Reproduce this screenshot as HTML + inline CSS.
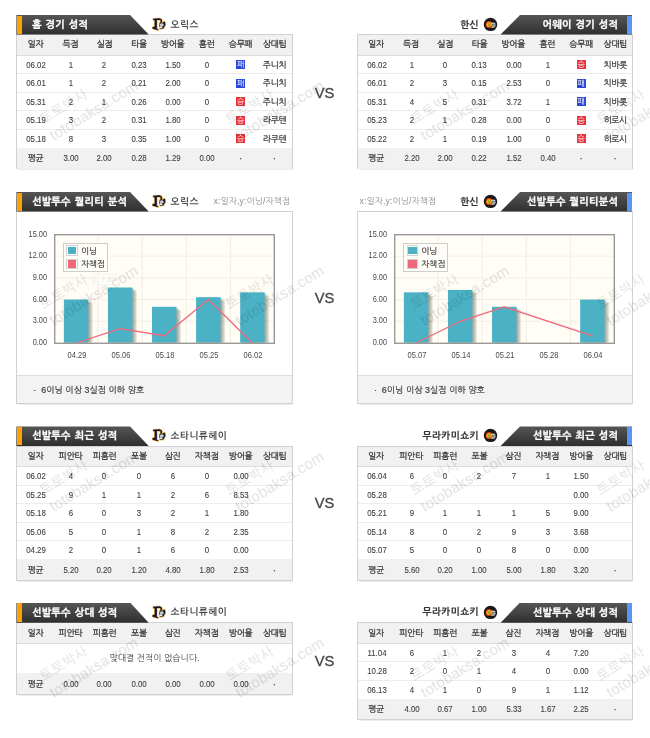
<!DOCTYPE html>
<html lang="ko"><head><meta charset="utf-8"><title>경기 분석</title>
<style>
html,body{margin:0;padding:0;background:#fff;}
body{width:650px;height:738px;position:relative;overflow:hidden;font-family:"Liberation Sans","NanumGothic","Noto Sans CJK KR",sans-serif;color:#555;filter:blur(0.3px);}
.a{position:absolute;white-space:nowrap;}
.c{position:absolute;white-space:nowrap;text-align:center;font-size:8.6px;color:#555;}
.th{color:#3a3a3a;font-size:8.7px;letter-spacing:-0.25px;-webkit-text-stroke:0.3px #3a3a3a;}
.n{transform:scaleX(0.9);color:#3c3c3c;font-size:8.7px;-webkit-text-stroke:0.1px #3c3c3c;}
.k{font-size:8.6px;color:#3a3a3a;letter-spacing:-0.2px;-webkit-text-stroke:0.25px #3a3a3a;}
.hd{position:absolute;height:19.6px;background:linear-gradient(#565656,#2e2e2e);}
.ht{position:absolute;white-space:nowrap;color:#fff;font-weight:bold;font-size:10.1px;line-height:19.6px;letter-spacing:0.25px;word-spacing:0.8px;-webkit-text-stroke:0.3px #fff;}
.tn{position:absolute;white-space:nowrap;font-weight:bold;font-size:9.6px;line-height:19.6px;color:#444;letter-spacing:0.4px;}
.box{position:absolute;border:1px solid #d2d2d2;box-sizing:border-box;background:#fff;box-shadow:0 0.6px 0.8px rgba(0,0,0,0.07);}
.hl{position:absolute;height:1px;background:#ececec;}
.g{position:absolute;background:#f1f1f1;}
.bd{position:absolute;width:8.8px;height:9px;color:#fff;font-size:7.8px;line-height:9.8px;text-align:center;overflow:hidden;}
.wm{position:absolute;white-space:nowrap;color:#000;opacity:0.1;font-size:15px;letter-spacing:0.25px;line-height:17.6px;transform:rotate(-31.5deg);transform-origin:0 26.4px;text-align:left;pointer-events:none;-webkit-text-stroke:0.25px #000;}
.wm b{font-weight:normal;font-size:13.6px;letter-spacing:0.6px;margin-left:0px;}
.lg{font-size:8.5px;line-height:10px;color:#444;letter-spacing:0.05px;-webkit-text-stroke:0.2px #444;}
.dot{color:#444;font-weight:bold;font-size:8px;}
.vs{position:absolute;font-size:14.7px;line-height:16px;color:#444;-webkit-text-stroke:0.3px #444;}
.yl{position:absolute;white-space:nowrap;font-size:8.2px;color:#4a4a4a;text-align:right;width:30px;line-height:10px;transform:scaleX(0.9);transform-origin:100% 50%;}
.xl{position:absolute;white-space:nowrap;font-size:8.2px;color:#4a4a4a;text-align:center;width:40px;line-height:10px;transform:scaleX(0.92);}
</style></head>
<body>
<div class="box" style="left:16.4px;top:34.1px;width:276.4px;height:135.4px;"></div>
<div class="g" style="left:17.4px;top:35.1px;width:274.4px;height:19.9px;"></div>
<div class="hl" style="left:17.4px;top:54.5px;width:274.4px;background:#dcdcdc;"></div>
<div class="g" style="left:17.4px;top:148.0px;width:274.4px;height:20.5px;"></div>
<div class="c th" style="left:10.40px;top:34.3px;width:50px;line-height:20.9px;">일자</div>
<div class="c th" style="left:45.40px;top:34.3px;width:50px;line-height:20.9px;">득점</div>
<div class="c th" style="left:79.60px;top:34.3px;width:50px;line-height:20.9px;">실점</div>
<div class="c th" style="left:113.90px;top:34.3px;width:50px;line-height:20.9px;">타율</div>
<div class="c th" style="left:147.60px;top:34.3px;width:50px;line-height:20.9px;">방어율</div>
<div class="c th" style="left:181.70px;top:34.3px;width:50px;line-height:20.9px;">홈런</div>
<div class="c th" style="left:215.60px;top:34.3px;width:50px;line-height:20.9px;">승무패</div>
<div class="c th" style="left:249.50px;top:34.3px;width:50px;line-height:20.9px;">상대팀</div>
<div class="c n" style="left:11.30px;top:55.60px;width:50px;line-height:19.2px;">06.02</div>
<div class="c n" style="left:46.00px;top:55.60px;width:50px;line-height:19.2px;">1</div>
<div class="c n" style="left:79.40px;top:55.60px;width:50px;line-height:19.2px;">2</div>
<div class="c n" style="left:113.70px;top:55.60px;width:50px;line-height:19.2px;">0.23</div>
<div class="c n" style="left:147.90px;top:55.60px;width:50px;line-height:19.2px;">1.50</div>
<div class="c n" style="left:181.90px;top:55.60px;width:50px;line-height:19.2px;">0</div>
<div class="bd" style="left:236.20px;top:60.00px;background:#2b46d8;">패</div>
<div class="c k" style="left:249.70px;top:55.60px;width:50px;line-height:19.2px;">주니치</div>
<div class="hl" style="left:17.4px;top:73.10px;width:274.4px;"></div>
<div class="c n" style="left:11.30px;top:74.20px;width:50px;line-height:19.2px;">06.01</div>
<div class="c n" style="left:46.00px;top:74.20px;width:50px;line-height:19.2px;">1</div>
<div class="c n" style="left:79.40px;top:74.20px;width:50px;line-height:19.2px;">2</div>
<div class="c n" style="left:113.70px;top:74.20px;width:50px;line-height:19.2px;">0.21</div>
<div class="c n" style="left:147.90px;top:74.20px;width:50px;line-height:19.2px;">2.00</div>
<div class="c n" style="left:181.90px;top:74.20px;width:50px;line-height:19.2px;">0</div>
<div class="bd" style="left:236.20px;top:78.60px;background:#2b46d8;">패</div>
<div class="c k" style="left:249.70px;top:74.20px;width:50px;line-height:19.2px;">주니치</div>
<div class="hl" style="left:17.4px;top:91.70px;width:274.4px;"></div>
<div class="c n" style="left:11.30px;top:92.80px;width:50px;line-height:19.2px;">05.31</div>
<div class="c n" style="left:46.00px;top:92.80px;width:50px;line-height:19.2px;">2</div>
<div class="c n" style="left:79.40px;top:92.80px;width:50px;line-height:19.2px;">1</div>
<div class="c n" style="left:113.70px;top:92.80px;width:50px;line-height:19.2px;">0.26</div>
<div class="c n" style="left:147.90px;top:92.80px;width:50px;line-height:19.2px;">0.00</div>
<div class="c n" style="left:181.90px;top:92.80px;width:50px;line-height:19.2px;">0</div>
<div class="bd" style="left:236.20px;top:97.20px;background:#e8323c;">승</div>
<div class="c k" style="left:249.70px;top:92.80px;width:50px;line-height:19.2px;">주니치</div>
<div class="hl" style="left:17.4px;top:110.30px;width:274.4px;"></div>
<div class="c n" style="left:11.30px;top:111.40px;width:50px;line-height:19.2px;">05.19</div>
<div class="c n" style="left:46.00px;top:111.40px;width:50px;line-height:19.2px;">3</div>
<div class="c n" style="left:79.40px;top:111.40px;width:50px;line-height:19.2px;">2</div>
<div class="c n" style="left:113.70px;top:111.40px;width:50px;line-height:19.2px;">0.31</div>
<div class="c n" style="left:147.90px;top:111.40px;width:50px;line-height:19.2px;">1.80</div>
<div class="c n" style="left:181.90px;top:111.40px;width:50px;line-height:19.2px;">0</div>
<div class="bd" style="left:236.20px;top:115.80px;background:#e8323c;">승</div>
<div class="c k" style="left:249.70px;top:111.40px;width:50px;line-height:19.2px;">라쿠텐</div>
<div class="hl" style="left:17.4px;top:128.90px;width:274.4px;"></div>
<div class="c n" style="left:11.30px;top:130.00px;width:50px;line-height:19.2px;">05.18</div>
<div class="c n" style="left:46.00px;top:130.00px;width:50px;line-height:19.2px;">8</div>
<div class="c n" style="left:79.40px;top:130.00px;width:50px;line-height:19.2px;">3</div>
<div class="c n" style="left:113.70px;top:130.00px;width:50px;line-height:19.2px;">0.35</div>
<div class="c n" style="left:147.90px;top:130.00px;width:50px;line-height:19.2px;">1.00</div>
<div class="c n" style="left:181.90px;top:130.00px;width:50px;line-height:19.2px;">0</div>
<div class="bd" style="left:236.20px;top:134.40px;background:#e8323c;">승</div>
<div class="c k" style="left:249.70px;top:130.00px;width:50px;line-height:19.2px;">라쿠텐</div>
<div class="c k" style="left:10.60px;top:148.40px;width:50px;line-height:21.5px;">평균</div>
<div class="c n" style="left:46.00px;top:148.40px;width:50px;line-height:21.5px;">3.00</div>
<div class="c n" style="left:79.40px;top:148.40px;width:50px;line-height:21.5px;">2.00</div>
<div class="c n" style="left:113.70px;top:148.40px;width:50px;line-height:21.5px;">0.28</div>
<div class="c n" style="left:147.90px;top:148.40px;width:50px;line-height:21.5px;">1.29</div>
<div class="c n" style="left:181.90px;top:148.40px;width:50px;line-height:21.5px;">0.00</div>
<div class="c dot" style="left:215.80px;top:148.40px;width:50px;line-height:21.5px;">·</div>
<div class="c dot" style="left:249.70px;top:148.40px;width:50px;line-height:21.5px;">·</div>
<div class="hd" style="left:16.4px;top:15.0px;height:19.6px;width:132.3px;clip-path:polygon(0 0,113.7px 0,132.3px 100%,0 100%);"></div>
<div class="a" style="left:16.7px;top:15.5px;width:5.4px;height:18.6px;background:#ffa200;"></div>
<div class="ht" style="left:31.9px;top:15.0px;">홈 경기 성적</div>
<svg class="a" style="left:146px;top:12.0px;" width="28" height="26" viewBox="0 0 650 604"><g fill="#e3b235" stroke="#e3b235" stroke-width="30" stroke-linejoin="round"><path d="M168 154 L322 148 L326 184 L252 188 L252 392 L284 404 L282 422 L154 388 L154 350 L202 340 L202 190 L168 188 Z"/><path d="M318 166 Q362 176 356 226 Q352 262 318 272" fill="none" stroke-width="62"/><path d="M335 262 L430 222 L450 300 L400 385 L325 390 Z"/></g><g fill="#14144a" stroke="#14144a" stroke-width="0"><path d="M168 154 L322 148 L326 184 L252 188 L252 392 L284 404 L282 422 L154 388 L154 350 L202 340 L202 190 L168 188 Z"/><path d="M318 166 Q362 176 356 226 Q352 262 318 272" fill="none" stroke-width="32"/></g><rect x="258" y="198" width="30" height="138" fill="#f4e29a"/><path d="M318 266 L395 242 L442 222 L450 300 L405 385 L325 392 L300 340 Z" fill="#2a2a30"/><ellipse cx="366" cy="298" rx="44" ry="36" fill="#cfcfd2"/><ellipse cx="342" cy="352" rx="40" ry="20" fill="#ededed"/><path d="M398 250 L442 226 L432 300 Z" fill="#121216"/></svg>
<div class="tn" style="left:170.6px;top:14.8px;color:#4a4a4a;">오릭스</div>
<div class="box" style="left:357.0px;top:34.1px;width:275.5px;height:135.4px;"></div>
<div class="g" style="left:358.0px;top:35.1px;width:273.5px;height:19.9px;"></div>
<div class="hl" style="left:358.0px;top:54.5px;width:273.5px;background:#dcdcdc;"></div>
<div class="g" style="left:358.0px;top:148.0px;width:273.5px;height:20.5px;"></div>
<div class="c th" style="left:351.00px;top:34.3px;width:50px;line-height:20.9px;">일자</div>
<div class="c th" style="left:386.00px;top:34.3px;width:50px;line-height:20.9px;">득점</div>
<div class="c th" style="left:420.20px;top:34.3px;width:50px;line-height:20.9px;">실점</div>
<div class="c th" style="left:454.50px;top:34.3px;width:50px;line-height:20.9px;">타율</div>
<div class="c th" style="left:488.20px;top:34.3px;width:50px;line-height:20.9px;">방어율</div>
<div class="c th" style="left:522.30px;top:34.3px;width:50px;line-height:20.9px;">홈런</div>
<div class="c th" style="left:556.20px;top:34.3px;width:50px;line-height:20.9px;">승무패</div>
<div class="c th" style="left:590.10px;top:34.3px;width:50px;line-height:20.9px;">상대팀</div>
<div class="c n" style="left:351.90px;top:55.60px;width:50px;line-height:19.2px;">06.02</div>
<div class="c n" style="left:386.60px;top:55.60px;width:50px;line-height:19.2px;">1</div>
<div class="c n" style="left:420.00px;top:55.60px;width:50px;line-height:19.2px;">0</div>
<div class="c n" style="left:454.30px;top:55.60px;width:50px;line-height:19.2px;">0.13</div>
<div class="c n" style="left:488.50px;top:55.60px;width:50px;line-height:19.2px;">0.00</div>
<div class="c n" style="left:522.50px;top:55.60px;width:50px;line-height:19.2px;">1</div>
<div class="bd" style="left:576.80px;top:60.00px;background:#e8323c;">승</div>
<div class="c k" style="left:590.30px;top:55.60px;width:50px;line-height:19.2px;">치바롯</div>
<div class="hl" style="left:358.0px;top:73.10px;width:273.5px;"></div>
<div class="c n" style="left:351.90px;top:74.20px;width:50px;line-height:19.2px;">06.01</div>
<div class="c n" style="left:386.60px;top:74.20px;width:50px;line-height:19.2px;">2</div>
<div class="c n" style="left:420.00px;top:74.20px;width:50px;line-height:19.2px;">3</div>
<div class="c n" style="left:454.30px;top:74.20px;width:50px;line-height:19.2px;">0.15</div>
<div class="c n" style="left:488.50px;top:74.20px;width:50px;line-height:19.2px;">2.53</div>
<div class="c n" style="left:522.50px;top:74.20px;width:50px;line-height:19.2px;">0</div>
<div class="bd" style="left:576.80px;top:78.60px;background:#2b46d8;">패</div>
<div class="c k" style="left:590.30px;top:74.20px;width:50px;line-height:19.2px;">치바롯</div>
<div class="hl" style="left:358.0px;top:91.70px;width:273.5px;"></div>
<div class="c n" style="left:351.90px;top:92.80px;width:50px;line-height:19.2px;">05.31</div>
<div class="c n" style="left:386.60px;top:92.80px;width:50px;line-height:19.2px;">4</div>
<div class="c n" style="left:420.00px;top:92.80px;width:50px;line-height:19.2px;">5</div>
<div class="c n" style="left:454.30px;top:92.80px;width:50px;line-height:19.2px;">0.31</div>
<div class="c n" style="left:488.50px;top:92.80px;width:50px;line-height:19.2px;">3.72</div>
<div class="c n" style="left:522.50px;top:92.80px;width:50px;line-height:19.2px;">1</div>
<div class="bd" style="left:576.80px;top:97.20px;background:#2b46d8;">패</div>
<div class="c k" style="left:590.30px;top:92.80px;width:50px;line-height:19.2px;">치바롯</div>
<div class="hl" style="left:358.0px;top:110.30px;width:273.5px;"></div>
<div class="c n" style="left:351.90px;top:111.40px;width:50px;line-height:19.2px;">05.23</div>
<div class="c n" style="left:386.60px;top:111.40px;width:50px;line-height:19.2px;">2</div>
<div class="c n" style="left:420.00px;top:111.40px;width:50px;line-height:19.2px;">1</div>
<div class="c n" style="left:454.30px;top:111.40px;width:50px;line-height:19.2px;">0.28</div>
<div class="c n" style="left:488.50px;top:111.40px;width:50px;line-height:19.2px;">0.00</div>
<div class="c n" style="left:522.50px;top:111.40px;width:50px;line-height:19.2px;">0</div>
<div class="bd" style="left:576.80px;top:115.80px;background:#e8323c;">승</div>
<div class="c k" style="left:590.30px;top:111.40px;width:50px;line-height:19.2px;">히로시</div>
<div class="hl" style="left:358.0px;top:128.90px;width:273.5px;"></div>
<div class="c n" style="left:351.90px;top:130.00px;width:50px;line-height:19.2px;">05.22</div>
<div class="c n" style="left:386.60px;top:130.00px;width:50px;line-height:19.2px;">2</div>
<div class="c n" style="left:420.00px;top:130.00px;width:50px;line-height:19.2px;">1</div>
<div class="c n" style="left:454.30px;top:130.00px;width:50px;line-height:19.2px;">0.19</div>
<div class="c n" style="left:488.50px;top:130.00px;width:50px;line-height:19.2px;">1.00</div>
<div class="c n" style="left:522.50px;top:130.00px;width:50px;line-height:19.2px;">0</div>
<div class="bd" style="left:576.80px;top:134.40px;background:#e8323c;">승</div>
<div class="c k" style="left:590.30px;top:130.00px;width:50px;line-height:19.2px;">히로시</div>
<div class="c k" style="left:351.20px;top:148.40px;width:50px;line-height:21.5px;">평균</div>
<div class="c n" style="left:386.60px;top:148.40px;width:50px;line-height:21.5px;">2.20</div>
<div class="c n" style="left:420.00px;top:148.40px;width:50px;line-height:21.5px;">2.00</div>
<div class="c n" style="left:454.30px;top:148.40px;width:50px;line-height:21.5px;">0.22</div>
<div class="c n" style="left:488.50px;top:148.40px;width:50px;line-height:21.5px;">1.52</div>
<div class="c n" style="left:522.50px;top:148.40px;width:50px;line-height:21.5px;">0.40</div>
<div class="c dot" style="left:556.40px;top:148.40px;width:50px;line-height:21.5px;">·</div>
<div class="c dot" style="left:590.30px;top:148.40px;width:50px;line-height:21.5px;">·</div>
<div class="hd" style="left:500.6px;top:15.0px;height:19.6px;width:131.7px;clip-path:polygon(19.4px 0,100% 0,100% 100%,0 100%);"></div>
<div class="a" style="left:627.3px;top:15.5px;width:4.8px;height:18.6px;background:#5a96f5;"></div>
<div class="ht" style="right:31.7px;top:15.0px;">어웨이 경기 성적</div>
<svg class="a" style="left:478px;top:12.0px;" width="28" height="26" viewBox="0 0 650 604"><circle cx="290" cy="288" r="156" fill="#121212"/><circle cx="290" cy="288" r="126" fill="none" stroke="#a0a0a0" stroke-width="14" stroke-dasharray="14 16" opacity="0.5"/><circle cx="262" cy="290" r="82" fill="#e4391a"/><circle cx="256" cy="290" r="60" fill="#f6a400"/><circle cx="254" cy="288" r="38" fill="#d8cc20"/><path d="M232 250 L264 334 L298 252" fill="none" stroke="#4a4a1a" stroke-width="10"/><path d="M305 262 Q350 228 398 262 L408 320 Q392 372 340 372 L296 352 L318 306 Z" fill="#e9e9e9"/><path d="M312 306 L400 306 M322 346 L388 346 M352 262 L352 300 M300 352 L330 320" stroke="#1c1c1c" stroke-width="13" fill="none"/><circle cx="334" cy="282" r="10" fill="#1c1c1c"/><circle cx="380" cy="284" r="10" fill="#1c1c1c"/></svg>
<div class="tn" style="right:171px;top:14.8px;color:#333;-webkit-text-stroke:0.15px #333;">한신</div>
<div class="box" style="left:16.4px;top:211.1px;width:276.4px;height:192.7px;"></div>
<div class="g" style="left:17.4px;top:375.4px;width:274.4px;height:27.4px;background:#f3f3f3;border-top:1px solid #ddd;box-sizing:border-box;"></div>
<div class="a" style="left:33.3px;top:376.1px;line-height:28.4px;font-size:8.8px;color:#3c3c3c;letter-spacing:0.05px;-webkit-text-stroke:0.2px #3c3c3c;">· &nbsp;6이닝 이상 3실점 이하 양호</div>
<svg class="a" style="left:53.9px;top:233.8px;overflow:visible;" width="221.0" height="110.0" viewBox="0 0 221.0 110.0"><rect x="0" y="0" width="221.00" height="110.00" fill="#fffdf6"/><line x1="0" x2="221.00" y1="87.28" y2="87.28" stroke="#f0ede2" stroke-width="0.9"/><line x1="0" x2="221.00" y1="65.56" y2="65.56" stroke="#f0ede2" stroke-width="0.9"/><line x1="0" x2="221.00" y1="43.84" y2="43.84" stroke="#f0ede2" stroke-width="0.9"/><line x1="0" x2="221.00" y1="22.12" y2="22.12" stroke="#f0ede2" stroke-width="0.9"/><line y1="0" y2="110.00" x1="44.14" x2="44.14" stroke="#f0ede2" stroke-width="0.9"/><line y1="0" y2="110.00" x1="88.22" x2="88.22" stroke="#f0ede2" stroke-width="0.9"/><line y1="0" y2="110.00" x1="132.30" x2="132.30" stroke="#f0ede2" stroke-width="0.9"/><line y1="0" y2="110.00" x1="176.38" x2="176.38" stroke="#f0ede2" stroke-width="0.9"/><rect x="14.35" y="69.16" width="24.50" height="39.44" fill="#3a3020" opacity="0.1"/><rect x="13.45" y="68.44" width="24.50" height="40.16" fill="#3a3020" opacity="0.1"/><rect x="12.55" y="67.72" width="24.50" height="40.88" fill="#3a3020" opacity="0.1"/><rect x="11.65" y="67.00" width="24.50" height="41.60" fill="#3a3020" opacity="0.1"/><rect x="10.75" y="66.28" width="24.50" height="42.32" fill="#3a3020" opacity="0.1"/><rect x="9.85" y="65.56" width="24.50" height="43.04" fill="#4bb2c5"/><rect x="58.43" y="57.07" width="24.50" height="51.53" fill="#3a3020" opacity="0.1"/><rect x="57.53" y="56.35" width="24.50" height="52.25" fill="#3a3020" opacity="0.1"/><rect x="56.63" y="55.63" width="24.50" height="52.97" fill="#3a3020" opacity="0.1"/><rect x="55.73" y="54.91" width="24.50" height="53.69" fill="#3a3020" opacity="0.1"/><rect x="54.83" y="54.19" width="24.50" height="54.41" fill="#3a3020" opacity="0.1"/><rect x="53.93" y="53.47" width="24.50" height="55.13" fill="#4bb2c5"/><rect x="102.51" y="76.40" width="24.50" height="32.20" fill="#3a3020" opacity="0.1"/><rect x="101.61" y="75.68" width="24.50" height="32.92" fill="#3a3020" opacity="0.1"/><rect x="100.71" y="74.96" width="24.50" height="33.64" fill="#3a3020" opacity="0.1"/><rect x="99.81" y="74.24" width="24.50" height="34.36" fill="#3a3020" opacity="0.1"/><rect x="98.91" y="73.52" width="24.50" height="35.08" fill="#3a3020" opacity="0.1"/><rect x="98.01" y="72.80" width="24.50" height="35.80" fill="#4bb2c5"/><rect x="146.59" y="66.77" width="24.50" height="41.83" fill="#3a3020" opacity="0.1"/><rect x="145.69" y="66.05" width="24.50" height="42.55" fill="#3a3020" opacity="0.1"/><rect x="144.79" y="65.33" width="24.50" height="43.27" fill="#3a3020" opacity="0.1"/><rect x="143.89" y="64.61" width="24.50" height="43.99" fill="#3a3020" opacity="0.1"/><rect x="142.99" y="63.89" width="24.50" height="44.71" fill="#3a3020" opacity="0.1"/><rect x="142.09" y="63.17" width="24.50" height="45.43" fill="#4bb2c5"/><rect x="190.67" y="61.92" width="24.50" height="46.68" fill="#3a3020" opacity="0.1"/><rect x="189.77" y="61.20" width="24.50" height="47.40" fill="#3a3020" opacity="0.1"/><rect x="188.87" y="60.48" width="24.50" height="48.12" fill="#3a3020" opacity="0.1"/><rect x="187.97" y="59.76" width="24.50" height="48.84" fill="#3a3020" opacity="0.1"/><rect x="187.07" y="59.04" width="24.50" height="49.56" fill="#3a3020" opacity="0.1"/><rect x="186.17" y="58.32" width="24.50" height="50.28" fill="#4bb2c5"/><polyline points="22.10,109.00 66.18,94.52 110.26,101.76 154.34,65.56 198.42,109.00" fill="none" stroke="#f0677a" stroke-width="1.3" stroke-linejoin="round"/><rect x="0.7" y="0.7" width="219.60" height="108.60" fill="none" stroke="#999" stroke-width="1.4"/></svg>
<div class="a" style="left:63.1px;top:243.4px;width:44.8px;height:28.4px;box-sizing:border-box;border:1px solid #cdcdcd;background:#fffdf8;"></div>
<div class="a" style="left:66.3px;top:245.4px;width:11.4px;height:10.2px;box-sizing:border-box;border:1px solid #d2d2d2;background:#fffdf8;"></div>
<div class="a" style="left:67.8px;top:246.7px;width:8.6px;height:7.5px;background:#4bb2c5;"></div>
<div class="a" style="left:66.3px;top:258.9px;width:11.4px;height:10.2px;box-sizing:border-box;border:1px solid #d2d2d2;background:#fffdf8;"></div>
<div class="a" style="left:67.8px;top:260.2px;width:8.6px;height:7.5px;background:#f0677a;"></div>
<div class="a lg" style="left:81.0px;top:245.5px;">이닝</div>
<div class="a lg" style="left:81.0px;top:258.9px;">자책점</div>
<div class="yl" style="left:17.00px;top:229.50px;">15.00</div>
<div class="yl" style="left:17.00px;top:251.22px;">12.00</div>
<div class="yl" style="left:17.00px;top:272.94px;">9.00</div>
<div class="yl" style="left:17.00px;top:294.66px;">6.00</div>
<div class="yl" style="left:17.00px;top:316.38px;">3.00</div>
<div class="yl" style="left:17.00px;top:338.10px;">0.00</div>
<div class="xl" style="left:56.60px;top:350.6px;">04.29</div>
<div class="xl" style="left:100.68px;top:350.6px;">05.06</div>
<div class="xl" style="left:144.76px;top:350.6px;">05.18</div>
<div class="xl" style="left:188.84px;top:350.6px;">05.25</div>
<div class="xl" style="left:232.92px;top:350.6px;">06.02</div>
<div class="a" style="left:91.5px;top:273.8px;width:25.5px;height:11px;box-sizing:border-box;border:1px solid rgba(160,160,160,0.09);background:rgba(255,255,255,0.3);color:rgba(120,120,120,0.16);font-size:7.6px;line-height:9.4px;text-align:center;">2, 7.67</div>
<div class="hd" style="left:16.4px;top:192.0px;height:19.6px;width:132.3px;clip-path:polygon(0 0,113.7px 0,132.3px 100%,0 100%);"></div>
<div class="a" style="left:16.7px;top:192.5px;width:5.4px;height:18.6px;background:#ffa200;"></div>
<div class="ht" style="left:31.9px;top:192.0px;">선발투수 퀄리티 분석</div>
<svg class="a" style="left:146px;top:189.0px;" width="28" height="26" viewBox="0 0 650 604"><g fill="#e3b235" stroke="#e3b235" stroke-width="30" stroke-linejoin="round"><path d="M168 154 L322 148 L326 184 L252 188 L252 392 L284 404 L282 422 L154 388 L154 350 L202 340 L202 190 L168 188 Z"/><path d="M318 166 Q362 176 356 226 Q352 262 318 272" fill="none" stroke-width="62"/><path d="M335 262 L430 222 L450 300 L400 385 L325 390 Z"/></g><g fill="#14144a" stroke="#14144a" stroke-width="0"><path d="M168 154 L322 148 L326 184 L252 188 L252 392 L284 404 L282 422 L154 388 L154 350 L202 340 L202 190 L168 188 Z"/><path d="M318 166 Q362 176 356 226 Q352 262 318 272" fill="none" stroke-width="32"/></g><rect x="258" y="198" width="30" height="138" fill="#f4e29a"/><path d="M318 266 L395 242 L442 222 L450 300 L405 385 L325 392 L300 340 Z" fill="#2a2a30"/><ellipse cx="366" cy="298" rx="44" ry="36" fill="#cfcfd2"/><ellipse cx="342" cy="352" rx="40" ry="20" fill="#ededed"/><path d="M398 250 L442 226 L432 300 Z" fill="#121216"/></svg>
<div class="tn" style="left:170.6px;top:191.8px;color:#4a4a4a;">오릭스</div>
<div class="a" style="left:213.5px;top:192.0px;font-size:8.6px;line-height:19.6px;color:#8c8c8c;letter-spacing:0.15px;">x:일자,y:이닝/자책점</div>
<div class="box" style="left:357.0px;top:211.1px;width:276.4px;height:192.7px;"></div>
<div class="g" style="left:358.0px;top:375.4px;width:274.4px;height:27.4px;background:#f3f3f3;border-top:1px solid #ddd;box-sizing:border-box;"></div>
<div class="a" style="left:373.9px;top:376.1px;line-height:28.4px;font-size:8.8px;color:#3c3c3c;letter-spacing:0.05px;-webkit-text-stroke:0.2px #3c3c3c;">· &nbsp;6이닝 이상 3실점 이하 양호</div>
<svg class="a" style="left:394.2px;top:233.8px;overflow:visible;" width="221.0" height="110.0" viewBox="0 0 221.0 110.0"><rect x="0" y="0" width="221.00" height="110.00" fill="#fffdf6"/><line x1="0" x2="221.00" y1="87.28" y2="87.28" stroke="#f0ede2" stroke-width="0.9"/><line x1="0" x2="221.00" y1="65.56" y2="65.56" stroke="#f0ede2" stroke-width="0.9"/><line x1="0" x2="221.00" y1="43.84" y2="43.84" stroke="#f0ede2" stroke-width="0.9"/><line x1="0" x2="221.00" y1="22.12" y2="22.12" stroke="#f0ede2" stroke-width="0.9"/><line y1="0" y2="110.00" x1="44.14" x2="44.14" stroke="#f0ede2" stroke-width="0.9"/><line y1="0" y2="110.00" x1="88.22" x2="88.22" stroke="#f0ede2" stroke-width="0.9"/><line y1="0" y2="110.00" x1="132.30" x2="132.30" stroke="#f0ede2" stroke-width="0.9"/><line y1="0" y2="110.00" x1="176.38" x2="176.38" stroke="#f0ede2" stroke-width="0.9"/><rect x="14.35" y="61.92" width="24.50" height="46.68" fill="#3a3020" opacity="0.1"/><rect x="13.45" y="61.20" width="24.50" height="47.40" fill="#3a3020" opacity="0.1"/><rect x="12.55" y="60.48" width="24.50" height="48.12" fill="#3a3020" opacity="0.1"/><rect x="11.65" y="59.76" width="24.50" height="48.84" fill="#3a3020" opacity="0.1"/><rect x="10.75" y="59.04" width="24.50" height="49.56" fill="#3a3020" opacity="0.1"/><rect x="9.85" y="58.32" width="24.50" height="50.28" fill="#4bb2c5"/><rect x="58.43" y="59.53" width="24.50" height="49.07" fill="#3a3020" opacity="0.1"/><rect x="57.53" y="58.81" width="24.50" height="49.79" fill="#3a3020" opacity="0.1"/><rect x="56.63" y="58.09" width="24.50" height="50.51" fill="#3a3020" opacity="0.1"/><rect x="55.73" y="57.37" width="24.50" height="51.23" fill="#3a3020" opacity="0.1"/><rect x="54.83" y="56.65" width="24.50" height="51.95" fill="#3a3020" opacity="0.1"/><rect x="53.93" y="55.93" width="24.50" height="52.67" fill="#4bb2c5"/><rect x="102.51" y="76.40" width="24.50" height="32.20" fill="#3a3020" opacity="0.1"/><rect x="101.61" y="75.68" width="24.50" height="32.92" fill="#3a3020" opacity="0.1"/><rect x="100.71" y="74.96" width="24.50" height="33.64" fill="#3a3020" opacity="0.1"/><rect x="99.81" y="74.24" width="24.50" height="34.36" fill="#3a3020" opacity="0.1"/><rect x="98.91" y="73.52" width="24.50" height="35.08" fill="#3a3020" opacity="0.1"/><rect x="98.01" y="72.80" width="24.50" height="35.80" fill="#4bb2c5"/><rect x="190.67" y="69.16" width="24.50" height="39.44" fill="#3a3020" opacity="0.1"/><rect x="189.77" y="68.44" width="24.50" height="40.16" fill="#3a3020" opacity="0.1"/><rect x="188.87" y="67.72" width="24.50" height="40.88" fill="#3a3020" opacity="0.1"/><rect x="187.97" y="67.00" width="24.50" height="41.60" fill="#3a3020" opacity="0.1"/><rect x="187.07" y="66.28" width="24.50" height="42.32" fill="#3a3020" opacity="0.1"/><rect x="186.17" y="65.56" width="24.50" height="43.04" fill="#4bb2c5"/><polyline points="22.10,109.00 66.18,87.28 110.26,72.80 198.42,101.76" fill="none" stroke="#f0677a" stroke-width="1.3" stroke-linejoin="round"/><rect x="0.7" y="0.7" width="219.60" height="108.60" fill="none" stroke="#999" stroke-width="1.4"/></svg>
<div class="a" style="left:403.4px;top:243.4px;width:44.8px;height:28.4px;box-sizing:border-box;border:1px solid #cdcdcd;background:#fffdf8;"></div>
<div class="a" style="left:406.6px;top:245.4px;width:11.4px;height:10.2px;box-sizing:border-box;border:1px solid #d2d2d2;background:#fffdf8;"></div>
<div class="a" style="left:408.1px;top:246.7px;width:8.6px;height:7.5px;background:#4bb2c5;"></div>
<div class="a" style="left:406.6px;top:258.9px;width:11.4px;height:10.2px;box-sizing:border-box;border:1px solid #d2d2d2;background:#fffdf8;"></div>
<div class="a" style="left:408.1px;top:260.2px;width:8.6px;height:7.5px;background:#f0677a;"></div>
<div class="a lg" style="left:421.3px;top:245.5px;">이닝</div>
<div class="a lg" style="left:421.3px;top:258.9px;">자책점</div>
<div class="yl" style="left:357.30px;top:229.50px;">15.00</div>
<div class="yl" style="left:357.30px;top:251.22px;">12.00</div>
<div class="yl" style="left:357.30px;top:272.94px;">9.00</div>
<div class="yl" style="left:357.30px;top:294.66px;">6.00</div>
<div class="yl" style="left:357.30px;top:316.38px;">3.00</div>
<div class="yl" style="left:357.30px;top:338.10px;">0.00</div>
<div class="xl" style="left:396.90px;top:350.6px;">05.07</div>
<div class="xl" style="left:440.98px;top:350.6px;">05.14</div>
<div class="xl" style="left:485.06px;top:350.6px;">05.21</div>
<div class="xl" style="left:529.14px;top:350.6px;">05.28</div>
<div class="xl" style="left:573.22px;top:350.6px;">06.04</div>
<div class="hd" style="left:500.6px;top:192.0px;height:19.6px;width:131.7px;clip-path:polygon(19.4px 0,100% 0,100% 100%,0 100%);"></div>
<div class="a" style="left:627.3px;top:192.5px;width:4.8px;height:18.6px;background:#5a96f5;"></div>
<div class="ht" style="right:31.7px;top:192.0px;">선발투수 퀄리티분석</div>
<svg class="a" style="left:478px;top:189.0px;" width="28" height="26" viewBox="0 0 650 604"><circle cx="290" cy="288" r="156" fill="#121212"/><circle cx="290" cy="288" r="126" fill="none" stroke="#a0a0a0" stroke-width="14" stroke-dasharray="14 16" opacity="0.5"/><circle cx="262" cy="290" r="82" fill="#e4391a"/><circle cx="256" cy="290" r="60" fill="#f6a400"/><circle cx="254" cy="288" r="38" fill="#d8cc20"/><path d="M232 250 L264 334 L298 252" fill="none" stroke="#4a4a1a" stroke-width="10"/><path d="M305 262 Q350 228 398 262 L408 320 Q392 372 340 372 L296 352 L318 306 Z" fill="#e9e9e9"/><path d="M312 306 L400 306 M322 346 L388 346 M352 262 L352 300 M300 352 L330 320" stroke="#1c1c1c" stroke-width="13" fill="none"/><circle cx="334" cy="282" r="10" fill="#1c1c1c"/><circle cx="380" cy="284" r="10" fill="#1c1c1c"/></svg>
<div class="tn" style="right:171px;top:191.8px;color:#333;-webkit-text-stroke:0.15px #333;">한신</div>
<div class="a" style="left:359.5px;top:192.0px;font-size:8.6px;line-height:19.6px;color:#8c8c8c;letter-spacing:0.15px;">x:일자,y:이닝/자책점</div>
<div class="box" style="left:16.4px;top:445.5px;width:276.4px;height:135.4px;"></div>
<div class="g" style="left:17.4px;top:446.5px;width:274.4px;height:19.9px;"></div>
<div class="hl" style="left:17.4px;top:465.9px;width:274.4px;background:#dcdcdc;"></div>
<div class="g" style="left:17.4px;top:559.4px;width:274.4px;height:20.5px;"></div>
<div class="c th" style="left:10.40px;top:445.7px;width:50px;line-height:20.9px;">일자</div>
<div class="c th" style="left:45.40px;top:445.7px;width:50px;line-height:20.9px;">피안타</div>
<div class="c th" style="left:79.60px;top:445.7px;width:50px;line-height:20.9px;">피홈런</div>
<div class="c th" style="left:113.90px;top:445.7px;width:50px;line-height:20.9px;">포볼</div>
<div class="c th" style="left:147.60px;top:445.7px;width:50px;line-height:20.9px;">삼진</div>
<div class="c th" style="left:181.70px;top:445.7px;width:50px;line-height:20.9px;">자책점</div>
<div class="c th" style="left:215.60px;top:445.7px;width:50px;line-height:20.9px;">방어율</div>
<div class="c th" style="left:249.50px;top:445.7px;width:50px;line-height:20.9px;">상대팀</div>
<div class="c n" style="left:11.30px;top:467.00px;width:50px;line-height:19.2px;">06.02</div>
<div class="c n" style="left:46.00px;top:467.00px;width:50px;line-height:19.2px;">4</div>
<div class="c n" style="left:79.40px;top:467.00px;width:50px;line-height:19.2px;">0</div>
<div class="c n" style="left:113.70px;top:467.00px;width:50px;line-height:19.2px;">0</div>
<div class="c n" style="left:147.90px;top:467.00px;width:50px;line-height:19.2px;">6</div>
<div class="c n" style="left:181.90px;top:467.00px;width:50px;line-height:19.2px;">0</div>
<div class="c n" style="left:215.80px;top:467.00px;width:50px;line-height:19.2px;">0.00</div>
<div class="hl" style="left:17.4px;top:484.50px;width:274.4px;"></div>
<div class="c n" style="left:11.30px;top:485.60px;width:50px;line-height:19.2px;">05.25</div>
<div class="c n" style="left:46.00px;top:485.60px;width:50px;line-height:19.2px;">9</div>
<div class="c n" style="left:79.40px;top:485.60px;width:50px;line-height:19.2px;">1</div>
<div class="c n" style="left:113.70px;top:485.60px;width:50px;line-height:19.2px;">1</div>
<div class="c n" style="left:147.90px;top:485.60px;width:50px;line-height:19.2px;">2</div>
<div class="c n" style="left:181.90px;top:485.60px;width:50px;line-height:19.2px;">6</div>
<div class="c n" style="left:215.80px;top:485.60px;width:50px;line-height:19.2px;">8.53</div>
<div class="hl" style="left:17.4px;top:503.10px;width:274.4px;"></div>
<div class="c n" style="left:11.30px;top:504.20px;width:50px;line-height:19.2px;">05.18</div>
<div class="c n" style="left:46.00px;top:504.20px;width:50px;line-height:19.2px;">6</div>
<div class="c n" style="left:79.40px;top:504.20px;width:50px;line-height:19.2px;">0</div>
<div class="c n" style="left:113.70px;top:504.20px;width:50px;line-height:19.2px;">3</div>
<div class="c n" style="left:147.90px;top:504.20px;width:50px;line-height:19.2px;">2</div>
<div class="c n" style="left:181.90px;top:504.20px;width:50px;line-height:19.2px;">1</div>
<div class="c n" style="left:215.80px;top:504.20px;width:50px;line-height:19.2px;">1.80</div>
<div class="hl" style="left:17.4px;top:521.70px;width:274.4px;"></div>
<div class="c n" style="left:11.30px;top:522.80px;width:50px;line-height:19.2px;">05.06</div>
<div class="c n" style="left:46.00px;top:522.80px;width:50px;line-height:19.2px;">5</div>
<div class="c n" style="left:79.40px;top:522.80px;width:50px;line-height:19.2px;">0</div>
<div class="c n" style="left:113.70px;top:522.80px;width:50px;line-height:19.2px;">1</div>
<div class="c n" style="left:147.90px;top:522.80px;width:50px;line-height:19.2px;">8</div>
<div class="c n" style="left:181.90px;top:522.80px;width:50px;line-height:19.2px;">2</div>
<div class="c n" style="left:215.80px;top:522.80px;width:50px;line-height:19.2px;">2.35</div>
<div class="hl" style="left:17.4px;top:540.30px;width:274.4px;"></div>
<div class="c n" style="left:11.30px;top:541.40px;width:50px;line-height:19.2px;">04.29</div>
<div class="c n" style="left:46.00px;top:541.40px;width:50px;line-height:19.2px;">2</div>
<div class="c n" style="left:79.40px;top:541.40px;width:50px;line-height:19.2px;">0</div>
<div class="c n" style="left:113.70px;top:541.40px;width:50px;line-height:19.2px;">1</div>
<div class="c n" style="left:147.90px;top:541.40px;width:50px;line-height:19.2px;">6</div>
<div class="c n" style="left:181.90px;top:541.40px;width:50px;line-height:19.2px;">0</div>
<div class="c n" style="left:215.80px;top:541.40px;width:50px;line-height:19.2px;">0.00</div>
<div class="c k" style="left:10.60px;top:559.80px;width:50px;line-height:21.5px;">평균</div>
<div class="c n" style="left:46.00px;top:559.80px;width:50px;line-height:21.5px;">5.20</div>
<div class="c n" style="left:79.40px;top:559.80px;width:50px;line-height:21.5px;">0.20</div>
<div class="c n" style="left:113.70px;top:559.80px;width:50px;line-height:21.5px;">1.20</div>
<div class="c n" style="left:147.90px;top:559.80px;width:50px;line-height:21.5px;">4.80</div>
<div class="c n" style="left:181.90px;top:559.80px;width:50px;line-height:21.5px;">1.80</div>
<div class="c n" style="left:215.80px;top:559.80px;width:50px;line-height:21.5px;">2.53</div>
<div class="c dot" style="left:249.70px;top:559.80px;width:50px;line-height:21.5px;">·</div>
<div class="hd" style="left:16.4px;top:426.4px;height:19.6px;width:132.3px;clip-path:polygon(0 0,113.7px 0,132.3px 100%,0 100%);"></div>
<div class="a" style="left:16.7px;top:426.9px;width:5.4px;height:18.6px;background:#ffa200;"></div>
<div class="ht" style="left:31.9px;top:426.4px;">선발투수 최근 성적</div>
<svg class="a" style="left:146px;top:423.4px;" width="28" height="26" viewBox="0 0 650 604"><g fill="#e3b235" stroke="#e3b235" stroke-width="30" stroke-linejoin="round"><path d="M168 154 L322 148 L326 184 L252 188 L252 392 L284 404 L282 422 L154 388 L154 350 L202 340 L202 190 L168 188 Z"/><path d="M318 166 Q362 176 356 226 Q352 262 318 272" fill="none" stroke-width="62"/><path d="M335 262 L430 222 L450 300 L400 385 L325 390 Z"/></g><g fill="#14144a" stroke="#14144a" stroke-width="0"><path d="M168 154 L322 148 L326 184 L252 188 L252 392 L284 404 L282 422 L154 388 L154 350 L202 340 L202 190 L168 188 Z"/><path d="M318 166 Q362 176 356 226 Q352 262 318 272" fill="none" stroke-width="32"/></g><rect x="258" y="198" width="30" height="138" fill="#f4e29a"/><path d="M318 266 L395 242 L442 222 L450 300 L405 385 L325 392 L300 340 Z" fill="#2a2a30"/><ellipse cx="366" cy="298" rx="44" ry="36" fill="#cfcfd2"/><ellipse cx="342" cy="352" rx="40" ry="20" fill="#ededed"/><path d="M398 250 L442 226 L432 300 Z" fill="#121216"/></svg>
<div class="tn" style="left:170.6px;top:426.2px;color:#4a4a4a;">소타니류헤이</div>
<div class="box" style="left:357.0px;top:445.5px;width:275.5px;height:135.4px;"></div>
<div class="g" style="left:358.0px;top:446.5px;width:273.5px;height:19.9px;"></div>
<div class="hl" style="left:358.0px;top:465.9px;width:273.5px;background:#dcdcdc;"></div>
<div class="g" style="left:358.0px;top:559.4px;width:273.5px;height:20.5px;"></div>
<div class="c th" style="left:351.00px;top:445.7px;width:50px;line-height:20.9px;">일자</div>
<div class="c th" style="left:386.00px;top:445.7px;width:50px;line-height:20.9px;">피안타</div>
<div class="c th" style="left:420.20px;top:445.7px;width:50px;line-height:20.9px;">피홈런</div>
<div class="c th" style="left:454.50px;top:445.7px;width:50px;line-height:20.9px;">포볼</div>
<div class="c th" style="left:488.20px;top:445.7px;width:50px;line-height:20.9px;">삼진</div>
<div class="c th" style="left:522.30px;top:445.7px;width:50px;line-height:20.9px;">자책점</div>
<div class="c th" style="left:556.20px;top:445.7px;width:50px;line-height:20.9px;">방어율</div>
<div class="c th" style="left:590.10px;top:445.7px;width:50px;line-height:20.9px;">상대팀</div>
<div class="c n" style="left:351.90px;top:467.00px;width:50px;line-height:19.2px;">06.04</div>
<div class="c n" style="left:386.60px;top:467.00px;width:50px;line-height:19.2px;">6</div>
<div class="c n" style="left:420.00px;top:467.00px;width:50px;line-height:19.2px;">0</div>
<div class="c n" style="left:454.30px;top:467.00px;width:50px;line-height:19.2px;">2</div>
<div class="c n" style="left:488.50px;top:467.00px;width:50px;line-height:19.2px;">7</div>
<div class="c n" style="left:522.50px;top:467.00px;width:50px;line-height:19.2px;">1</div>
<div class="c n" style="left:556.40px;top:467.00px;width:50px;line-height:19.2px;">1.50</div>
<div class="hl" style="left:358.0px;top:484.50px;width:273.5px;"></div>
<div class="c n" style="left:351.90px;top:485.60px;width:50px;line-height:19.2px;">05.28</div>
<div class="c n" style="left:556.40px;top:485.60px;width:50px;line-height:19.2px;">0.00</div>
<div class="hl" style="left:358.0px;top:503.10px;width:273.5px;"></div>
<div class="c n" style="left:351.90px;top:504.20px;width:50px;line-height:19.2px;">05.21</div>
<div class="c n" style="left:386.60px;top:504.20px;width:50px;line-height:19.2px;">9</div>
<div class="c n" style="left:420.00px;top:504.20px;width:50px;line-height:19.2px;">1</div>
<div class="c n" style="left:454.30px;top:504.20px;width:50px;line-height:19.2px;">1</div>
<div class="c n" style="left:488.50px;top:504.20px;width:50px;line-height:19.2px;">1</div>
<div class="c n" style="left:522.50px;top:504.20px;width:50px;line-height:19.2px;">5</div>
<div class="c n" style="left:556.40px;top:504.20px;width:50px;line-height:19.2px;">9.00</div>
<div class="hl" style="left:358.0px;top:521.70px;width:273.5px;"></div>
<div class="c n" style="left:351.90px;top:522.80px;width:50px;line-height:19.2px;">05.14</div>
<div class="c n" style="left:386.60px;top:522.80px;width:50px;line-height:19.2px;">8</div>
<div class="c n" style="left:420.00px;top:522.80px;width:50px;line-height:19.2px;">0</div>
<div class="c n" style="left:454.30px;top:522.80px;width:50px;line-height:19.2px;">2</div>
<div class="c n" style="left:488.50px;top:522.80px;width:50px;line-height:19.2px;">9</div>
<div class="c n" style="left:522.50px;top:522.80px;width:50px;line-height:19.2px;">3</div>
<div class="c n" style="left:556.40px;top:522.80px;width:50px;line-height:19.2px;">3.68</div>
<div class="hl" style="left:358.0px;top:540.30px;width:273.5px;"></div>
<div class="c n" style="left:351.90px;top:541.40px;width:50px;line-height:19.2px;">05.07</div>
<div class="c n" style="left:386.60px;top:541.40px;width:50px;line-height:19.2px;">5</div>
<div class="c n" style="left:420.00px;top:541.40px;width:50px;line-height:19.2px;">0</div>
<div class="c n" style="left:454.30px;top:541.40px;width:50px;line-height:19.2px;">0</div>
<div class="c n" style="left:488.50px;top:541.40px;width:50px;line-height:19.2px;">8</div>
<div class="c n" style="left:522.50px;top:541.40px;width:50px;line-height:19.2px;">0</div>
<div class="c n" style="left:556.40px;top:541.40px;width:50px;line-height:19.2px;">0.00</div>
<div class="c k" style="left:351.20px;top:559.80px;width:50px;line-height:21.5px;">평균</div>
<div class="c n" style="left:386.60px;top:559.80px;width:50px;line-height:21.5px;">5.60</div>
<div class="c n" style="left:420.00px;top:559.80px;width:50px;line-height:21.5px;">0.20</div>
<div class="c n" style="left:454.30px;top:559.80px;width:50px;line-height:21.5px;">1.00</div>
<div class="c n" style="left:488.50px;top:559.80px;width:50px;line-height:21.5px;">5.00</div>
<div class="c n" style="left:522.50px;top:559.80px;width:50px;line-height:21.5px;">1.80</div>
<div class="c n" style="left:556.40px;top:559.80px;width:50px;line-height:21.5px;">3.20</div>
<div class="c dot" style="left:590.30px;top:559.80px;width:50px;line-height:21.5px;">·</div>
<div class="hd" style="left:500.6px;top:426.4px;height:19.6px;width:131.7px;clip-path:polygon(19.4px 0,100% 0,100% 100%,0 100%);"></div>
<div class="a" style="left:627.3px;top:426.9px;width:4.8px;height:18.6px;background:#5a96f5;"></div>
<div class="ht" style="right:31.7px;top:426.4px;">선발투수 최근 성적</div>
<svg class="a" style="left:478px;top:423.4px;" width="28" height="26" viewBox="0 0 650 604"><circle cx="290" cy="288" r="156" fill="#121212"/><circle cx="290" cy="288" r="126" fill="none" stroke="#a0a0a0" stroke-width="14" stroke-dasharray="14 16" opacity="0.5"/><circle cx="262" cy="290" r="82" fill="#e4391a"/><circle cx="256" cy="290" r="60" fill="#f6a400"/><circle cx="254" cy="288" r="38" fill="#d8cc20"/><path d="M232 250 L264 334 L298 252" fill="none" stroke="#4a4a1a" stroke-width="10"/><path d="M305 262 Q350 228 398 262 L408 320 Q392 372 340 372 L296 352 L318 306 Z" fill="#e9e9e9"/><path d="M312 306 L400 306 M322 346 L388 346 M352 262 L352 300 M300 352 L330 320" stroke="#1c1c1c" stroke-width="13" fill="none"/><circle cx="334" cy="282" r="10" fill="#1c1c1c"/><circle cx="380" cy="284" r="10" fill="#1c1c1c"/></svg>
<div class="tn" style="right:171px;top:426.2px;color:#333;-webkit-text-stroke:0.15px #333;">무라카미쇼키</div>
<div class="box" style="left:16.4px;top:622.3px;width:276.4px;height:72.3px;"></div>
<div class="g" style="left:17.4px;top:623.3px;width:274.4px;height:19.8px;"></div>
<div class="hl" style="left:17.4px;top:642.6px;width:274.4px;background:#dcdcdc;"></div>
<div class="g" style="left:17.4px;top:673.1px;width:274.4px;height:20.5px;"></div>
<div class="c th" style="left:10.40px;top:622.5px;width:50px;line-height:20.8px;">일자</div>
<div class="c th" style="left:45.40px;top:622.5px;width:50px;line-height:20.8px;">피안타</div>
<div class="c th" style="left:79.60px;top:622.5px;width:50px;line-height:20.8px;">피홈런</div>
<div class="c th" style="left:113.90px;top:622.5px;width:50px;line-height:20.8px;">포볼</div>
<div class="c th" style="left:147.60px;top:622.5px;width:50px;line-height:20.8px;">삼진</div>
<div class="c th" style="left:181.70px;top:622.5px;width:50px;line-height:20.8px;">자책점</div>
<div class="c th" style="left:215.60px;top:622.5px;width:50px;line-height:20.8px;">방어율</div>
<div class="c th" style="left:249.50px;top:622.5px;width:50px;line-height:20.8px;">상대팀</div>
<div class="c" style="left:16.4px;top:643.1px;width:276.4px;line-height:30.0px;font-size:8.8px;color:#444;">맞대결 전적이 없습니다.</div>
<div class="c k" style="left:10.60px;top:673.50px;width:50px;line-height:21.5px;">평균</div>
<div class="c n" style="left:46.00px;top:673.50px;width:50px;line-height:21.5px;">0.00</div>
<div class="c n" style="left:79.40px;top:673.50px;width:50px;line-height:21.5px;">0.00</div>
<div class="c n" style="left:113.70px;top:673.50px;width:50px;line-height:21.5px;">0.00</div>
<div class="c n" style="left:147.90px;top:673.50px;width:50px;line-height:21.5px;">0.00</div>
<div class="c n" style="left:181.90px;top:673.50px;width:50px;line-height:21.5px;">0.00</div>
<div class="c n" style="left:215.80px;top:673.50px;width:50px;line-height:21.5px;">0.00</div>
<div class="c dot" style="left:249.70px;top:673.50px;width:50px;line-height:21.5px;">·</div>
<div class="hd" style="left:16.4px;top:602.5px;height:20.3px;width:132.3px;clip-path:polygon(0 0,113.7px 0,132.3px 100%,0 100%);"></div>
<div class="a" style="left:16.7px;top:603.0px;width:5.4px;height:19.3px;background:#ffa200;"></div>
<div class="ht" style="left:31.9px;top:602.85px;">선발투수 상대 성적</div>
<svg class="a" style="left:146px;top:599.5px;" width="28" height="26" viewBox="0 0 650 604"><g fill="#e3b235" stroke="#e3b235" stroke-width="30" stroke-linejoin="round"><path d="M168 154 L322 148 L326 184 L252 188 L252 392 L284 404 L282 422 L154 388 L154 350 L202 340 L202 190 L168 188 Z"/><path d="M318 166 Q362 176 356 226 Q352 262 318 272" fill="none" stroke-width="62"/><path d="M335 262 L430 222 L450 300 L400 385 L325 390 Z"/></g><g fill="#14144a" stroke="#14144a" stroke-width="0"><path d="M168 154 L322 148 L326 184 L252 188 L252 392 L284 404 L282 422 L154 388 L154 350 L202 340 L202 190 L168 188 Z"/><path d="M318 166 Q362 176 356 226 Q352 262 318 272" fill="none" stroke-width="32"/></g><rect x="258" y="198" width="30" height="138" fill="#f4e29a"/><path d="M318 266 L395 242 L442 222 L450 300 L405 385 L325 392 L300 340 Z" fill="#2a2a30"/><ellipse cx="366" cy="298" rx="44" ry="36" fill="#cfcfd2"/><ellipse cx="342" cy="352" rx="40" ry="20" fill="#ededed"/><path d="M398 250 L442 226 L432 300 Z" fill="#121216"/></svg>
<div class="tn" style="left:170.6px;top:602.3px;color:#4a4a4a;">소타니류헤이</div>
<div class="box" style="left:357.0px;top:622.3px;width:275.5px;height:97.75px;"></div>
<div class="g" style="left:358.0px;top:623.3px;width:273.5px;height:19.8px;"></div>
<div class="hl" style="left:358.0px;top:642.6px;width:273.5px;background:#dcdcdc;"></div>
<div class="g" style="left:358.0px;top:699.05px;width:273.5px;height:20.0px;"></div>
<div class="c th" style="left:351.00px;top:622.5px;width:50px;line-height:20.8px;">일자</div>
<div class="c th" style="left:386.00px;top:622.5px;width:50px;line-height:20.8px;">피안타</div>
<div class="c th" style="left:420.20px;top:622.5px;width:50px;line-height:20.8px;">피홈런</div>
<div class="c th" style="left:454.50px;top:622.5px;width:50px;line-height:20.8px;">포볼</div>
<div class="c th" style="left:488.20px;top:622.5px;width:50px;line-height:20.8px;">삼진</div>
<div class="c th" style="left:522.30px;top:622.5px;width:50px;line-height:20.8px;">자책점</div>
<div class="c th" style="left:556.20px;top:622.5px;width:50px;line-height:20.8px;">방어율</div>
<div class="c th" style="left:590.10px;top:622.5px;width:50px;line-height:20.8px;">상대팀</div>
<div class="c n" style="left:351.90px;top:643.70px;width:50px;line-height:19.25px;">11.04</div>
<div class="c n" style="left:386.60px;top:643.70px;width:50px;line-height:19.25px;">6</div>
<div class="c n" style="left:420.00px;top:643.70px;width:50px;line-height:19.25px;">1</div>
<div class="c n" style="left:454.30px;top:643.70px;width:50px;line-height:19.25px;">2</div>
<div class="c n" style="left:488.50px;top:643.70px;width:50px;line-height:19.25px;">3</div>
<div class="c n" style="left:522.50px;top:643.70px;width:50px;line-height:19.25px;">4</div>
<div class="c n" style="left:556.40px;top:643.70px;width:50px;line-height:19.25px;">7.20</div>
<div class="hl" style="left:358.0px;top:661.25px;width:273.5px;"></div>
<div class="c n" style="left:351.90px;top:662.35px;width:50px;line-height:19.25px;">10.28</div>
<div class="c n" style="left:386.60px;top:662.35px;width:50px;line-height:19.25px;">2</div>
<div class="c n" style="left:420.00px;top:662.35px;width:50px;line-height:19.25px;">0</div>
<div class="c n" style="left:454.30px;top:662.35px;width:50px;line-height:19.25px;">1</div>
<div class="c n" style="left:488.50px;top:662.35px;width:50px;line-height:19.25px;">4</div>
<div class="c n" style="left:522.50px;top:662.35px;width:50px;line-height:19.25px;">0</div>
<div class="c n" style="left:556.40px;top:662.35px;width:50px;line-height:19.25px;">0.00</div>
<div class="hl" style="left:358.0px;top:679.90px;width:273.5px;"></div>
<div class="c n" style="left:351.90px;top:681.00px;width:50px;line-height:19.25px;">06.13</div>
<div class="c n" style="left:386.60px;top:681.00px;width:50px;line-height:19.25px;">4</div>
<div class="c n" style="left:420.00px;top:681.00px;width:50px;line-height:19.25px;">1</div>
<div class="c n" style="left:454.30px;top:681.00px;width:50px;line-height:19.25px;">0</div>
<div class="c n" style="left:488.50px;top:681.00px;width:50px;line-height:19.25px;">9</div>
<div class="c n" style="left:522.50px;top:681.00px;width:50px;line-height:19.25px;">1</div>
<div class="c n" style="left:556.40px;top:681.00px;width:50px;line-height:19.25px;">1.12</div>
<div class="c k" style="left:351.20px;top:699.45px;width:50px;line-height:21.0px;">평균</div>
<div class="c n" style="left:386.60px;top:699.45px;width:50px;line-height:21.0px;">4.00</div>
<div class="c n" style="left:420.00px;top:699.45px;width:50px;line-height:21.0px;">0.67</div>
<div class="c n" style="left:454.30px;top:699.45px;width:50px;line-height:21.0px;">1.00</div>
<div class="c n" style="left:488.50px;top:699.45px;width:50px;line-height:21.0px;">5.33</div>
<div class="c n" style="left:522.50px;top:699.45px;width:50px;line-height:21.0px;">1.67</div>
<div class="c n" style="left:556.40px;top:699.45px;width:50px;line-height:21.0px;">2.25</div>
<div class="c dot" style="left:590.30px;top:699.45px;width:50px;line-height:21.0px;">·</div>
<div class="hd" style="left:500.6px;top:602.5px;height:20.3px;width:131.7px;clip-path:polygon(19.4px 0,100% 0,100% 100%,0 100%);"></div>
<div class="a" style="left:627.3px;top:603.0px;width:4.8px;height:19.3px;background:#5a96f5;"></div>
<div class="ht" style="right:31.7px;top:602.85px;">선발투수 상대 성적</div>
<svg class="a" style="left:478px;top:599.5px;" width="28" height="26" viewBox="0 0 650 604"><circle cx="290" cy="288" r="156" fill="#121212"/><circle cx="290" cy="288" r="126" fill="none" stroke="#a0a0a0" stroke-width="14" stroke-dasharray="14 16" opacity="0.5"/><circle cx="262" cy="290" r="82" fill="#e4391a"/><circle cx="256" cy="290" r="60" fill="#f6a400"/><circle cx="254" cy="288" r="38" fill="#d8cc20"/><path d="M232 250 L264 334 L298 252" fill="none" stroke="#4a4a1a" stroke-width="10"/><path d="M305 262 Q350 228 398 262 L408 320 Q392 372 340 372 L296 352 L318 306 Z" fill="#e9e9e9"/><path d="M312 306 L400 306 M322 346 L388 346 M352 262 L352 300 M300 352 L330 320" stroke="#1c1c1c" stroke-width="13" fill="none"/><circle cx="334" cy="282" r="10" fill="#1c1c1c"/><circle cx="380" cy="284" r="10" fill="#1c1c1c"/></svg>
<div class="tn" style="right:171px;top:602.3px;color:#333;-webkit-text-stroke:0.15px #333;">무라카미쇼키</div>
<div class="vs" style="left:314.7px;top:84.7px;">VS</div>
<div class="vs" style="left:314.7px;top:289.8px;">VS</div>
<div class="vs" style="left:314.7px;top:495.3px;">VS</div>
<div class="vs" style="left:314.7px;top:652.5px;">VS</div>
<div class="wm" style="left:49.8px;top:108.6px;"><b>토토박사</b><br>totobaksa.com</div>
<div class="wm" style="left:235.5px;top:108.6px;"><b>토토박사</b><br>totobaksa.com</div>
<div class="wm" style="left:421.2px;top:108.6px;"><b>토토박사</b><br>totobaksa.com</div>
<div class="wm" style="left:606.9px;top:108.6px;"><b>토토박사</b><br>totobaksa.com</div>
<div class="wm" style="left:49.8px;top:294.3px;"><b>토토박사</b><br>totobaksa.com</div>
<div class="wm" style="left:235.5px;top:294.3px;"><b>토토박사</b><br>totobaksa.com</div>
<div class="wm" style="left:421.2px;top:294.3px;"><b>토토박사</b><br>totobaksa.com</div>
<div class="wm" style="left:606.9px;top:294.3px;"><b>토토박사</b><br>totobaksa.com</div>
<div class="wm" style="left:49.8px;top:480.0px;"><b>토토박사</b><br>totobaksa.com</div>
<div class="wm" style="left:235.5px;top:480.0px;"><b>토토박사</b><br>totobaksa.com</div>
<div class="wm" style="left:421.2px;top:480.0px;"><b>토토박사</b><br>totobaksa.com</div>
<div class="wm" style="left:606.9px;top:480.0px;"><b>토토박사</b><br>totobaksa.com</div>
<div class="wm" style="left:49.8px;top:665.7px;"><b>토토박사</b><br>totobaksa.com</div>
<div class="wm" style="left:235.5px;top:665.7px;"><b>토토박사</b><br>totobaksa.com</div>
<div class="wm" style="left:421.2px;top:665.7px;"><b>토토박사</b><br>totobaksa.com</div>
<div class="wm" style="left:606.9px;top:665.7px;"><b>토토박사</b><br>totobaksa.com</div>
</body></html>
